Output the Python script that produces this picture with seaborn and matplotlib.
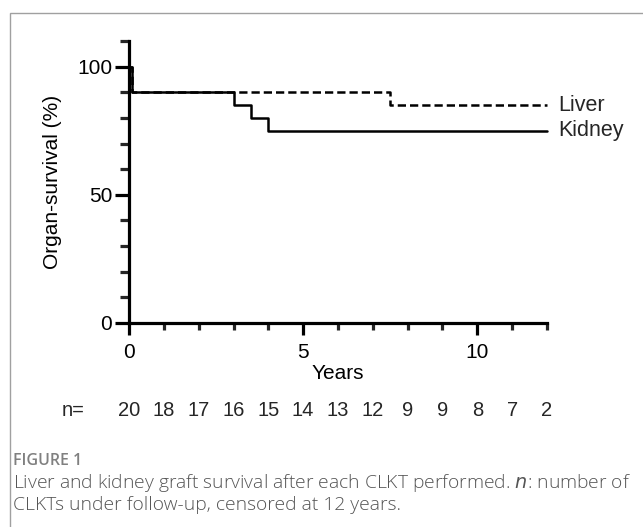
import matplotlib
matplotlib.use("Agg")
import matplotlib.pyplot as plt
import seaborn as sns
import pandas as pd
from matplotlib.patches import Rectangle
from matplotlib.transforms import blended_transform_factory

# ---- data ----
liver_years = [0, 0.08, 7.5, 12]
liver_survival = [100, 90, 85, 85]
kidney_years = [0, 0.08, 3.0, 3.5, 4.0, 12]
kidney_survival = [100, 90, 85, 80, 75, 75]
n_years = [0, 1, 2, 3, 4, 5, 6, 7, 8, 9, 10, 11, 12]
n_at_risk = ["20", "18", "17", "16", "15", "14", "13", "12", "9", "9", "8", "7", "2"]
x_major_ticks = [0, 5, 10]
y_major_ticks = [0, 50, 100]

sns.set_theme(style="white")
plt.rcParams['font.family'] = ['Liberation Sans', 'DejaVu Sans']

fig = plt.figure(figsize=(6.43, 5.27), dpi=100)
ax = fig.add_axes([129/643, 1 - 323/527, (547 - 129)/643, (323 - 41)/527])

liver_df = pd.DataFrame({"Years": liver_years, "Survival": liver_survival})
kidney_df = pd.DataFrame({"Years": kidney_years, "Survival": kidney_survival})

sns.lineplot(data=liver_df, x="Years", y="Survival", ax=ax, drawstyle="steps-post",
             color="black", linewidth=1.8, linestyle=(0, (3.3, 1.6)), clip_on=False)
sns.lineplot(data=kidney_df, x="Years", y="Survival", ax=ax, drawstyle="steps-post",
             color="black", linewidth=1.8, clip_on=False)

ax.set_xlim(0, 12)
ax.set_ylim(0, 110)
for s in ["top", "right"]:
    ax.spines[s].set_visible(False)
for s in ["left", "bottom"]:
    ax.spines[s].set_linewidth(2.3)
    ax.spines[s].set_color("black")

ax.set_xticks(x_major_ticks)
ax.set_xticks(range(0, 13), minor=True)
ax.set_yticks(y_major_ticks)
ax.set_yticks(range(0, 111, 10), minor=True)
ax.tick_params(axis="x", which="major", direction="out", length=8.5, width=2.3, pad=6,
               labelsize=15, bottom=True, colors="black")
ax.tick_params(axis="x", which="minor", direction="out", length=5, width=2.3, bottom=True)
ax.tick_params(axis="y", which="major", direction="out", length=10, width=2.3, pad=2,
               labelsize=15, left=True, colors="black")
ax.tick_params(axis="y", which="minor", direction="out", length=6.5, width=2.3, left=True)

ax.set_xlabel("Years", fontsize=15, color="black")
ax.xaxis.set_label_coords(0.5, (323 - 364)/282)
ax.set_ylabel("Organ-survival (%)", fontsize=15, color="black")
ax.yaxis.set_label_coords((62 - 129)/418, 0.5)

ax.annotate("Liver", xy=(liver_years[-1], liver_survival[-1]), xytext=(8, 0),
            textcoords="offset points", va="center", ha="left", fontsize=15.5, annotation_clip=False)
ax.annotate("Kidney", xy=(kidney_years[-1], kidney_survival[-1]), xytext=(8, 0),
            textcoords="offset points", va="center", ha="left", fontsize=15.5, annotation_clip=False)

trans = blended_transform_factory(ax.transData, fig.transFigure)
for xv, lab in zip(n_years, n_at_risk):
    ax.text(xv, 1 - 410/527, lab, transform=trans, ha="center", va="center", fontsize=14.5, clip_on=False)
fig.text(73/643, 1 - 410/527, "n=", ha="center", va="center", fontsize=14.5)

# figure frame
fig.patches.append(Rectangle((10/643, -0.05), 1.0, 1 - 13/527 + 0.05, transform=fig.transFigure,
                             fill=False, edgecolor="#a0a0a0", linewidth=1.0))

fig.text(13/643, 1 - 461/527, "FIGURE 1", fontsize=11.5, color="#808080", family="Open Sans",
         ha="left", va="center", fontweight="semibold")
fig.text(13/643, 1 - 483/527, "Liver and kidney graft survival after each CLKT performed. $\\mathit{n}$: number of",
         fontsize=13.9, color="#555555", family="Open Sans", ha="left", va="center", fontweight="light")
fig.text(13/643, 1 - 505/527, "CLKTs under follow-up, censored at 12 years.",
         fontsize=13.9, color="#555555", family="Open Sans", ha="left", va="center", fontweight="light")

fig.savefig("out.png", dpi=100)
